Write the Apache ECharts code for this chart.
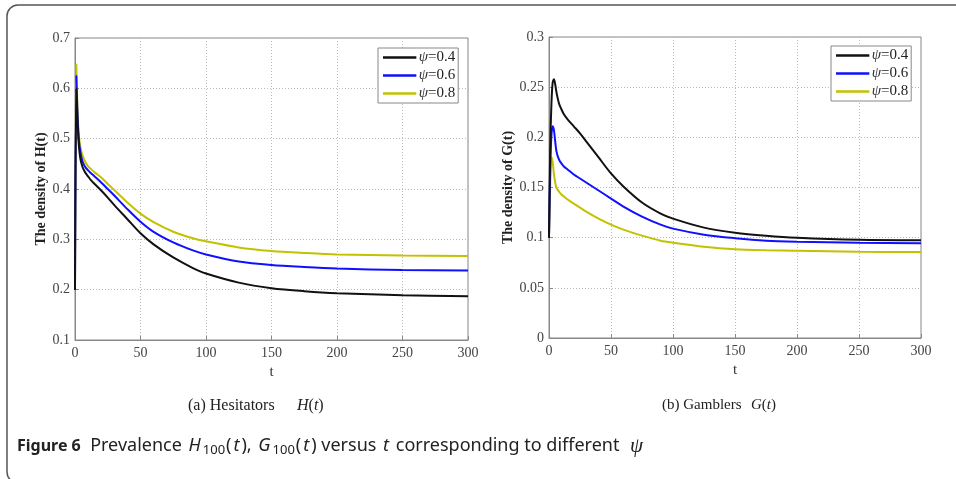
<!DOCTYPE html>
<html>
<head>
<meta charset="utf-8">
<script src="https://cdn.jsdelivr.net/npm/echarts@6/dist/echarts.min.js"></script>
<style>
  html, body { margin: 0; padding: 0; background: #fff; }
  #chart { width: 956px; height: 479px; }
</style>
</head>
<body>
<div id="chart"></div>
<script>
// time points shared by all curves
const tVals = [0, 1, 2, 3, 4, 5, 6, 8, 10, 12, 15, 20, 25, 30, 40, 50, 60, 75, 90, 100, 125, 150, 175, 200, 250, 300];

// (a) Hesitators H(t)
const hPsi04 = [0.2, 0.60, 0.53, 0.485, 0.462, 0.45, 0.442, 0.432, 0.425, 0.418, 0.41, 0.397, 0.383, 0.368, 0.34, 0.312, 0.29, 0.264, 0.243, 0.232, 0.214, 0.203, 0.197, 0.193, 0.189, 0.187];
const hPsi06 = [0.2, 0.625, 0.54, 0.495, 0.475, 0.462, 0.453, 0.443, 0.437, 0.432, 0.425, 0.413, 0.40, 0.387, 0.36, 0.335, 0.315, 0.294, 0.278, 0.270, 0.256, 0.249, 0.245, 0.242, 0.239, 0.238];
const hPsi08 = [0.2, 0.648, 0.55, 0.505, 0.485, 0.473, 0.465, 0.453, 0.445, 0.44, 0.433, 0.423, 0.41, 0.398, 0.373, 0.351, 0.334, 0.315, 0.302, 0.296, 0.284, 0.277, 0.273, 0.270, 0.268, 0.267];

// (b) Gamblers G(t)
const gPsi04 = [0.1, 0.19, 0.235, 0.255, 0.258, 0.253, 0.245, 0.234, 0.228, 0.223, 0.218, 0.211, 0.204, 0.196, 0.18, 0.164, 0.151, 0.135, 0.124, 0.119, 0.110, 0.105, 0.102, 0.100, 0.098, 0.0975];
const gPsi06 = [0.1, 0.17, 0.203, 0.211, 0.207, 0.196, 0.186, 0.178, 0.174, 0.171, 0.168, 0.163, 0.159, 0.155, 0.147, 0.139, 0.131, 0.121, 0.113, 0.109, 0.103, 0.0995, 0.097, 0.096, 0.095, 0.0945];
const gPsi08 = [0.1, 0.155, 0.18, 0.175, 0.163, 0.155, 0.15, 0.146, 0.143, 0.141, 0.138, 0.134, 0.13, 0.126, 0.119, 0.113, 0.108, 0.102, 0.097, 0.095, 0.091, 0.0885, 0.0875, 0.087, 0.086, 0.0857];

const seriesNames = ['ψ=0.4', 'ψ=0.6', 'ψ=0.8'];
const colors = ['#111111', '#1010ff', '#c2c200'];

const serif = '"Liberation Serif", "DejaVu Serif", serif';
const sans = '"Noto Sans", sans-serif';
const pairs = (ys) => tVals.map((t, i) => [t, ys[i]]);

const myChart = echarts.init(document.getElementById('chart'));

const xAxisBase = (grid) => ({
  type: 'value', gridIndex: grid, min: 0, max: 300, interval: 50,
  name: 't', nameLocation: 'middle', nameGap: 22,
  nameTextStyle: { fontFamily: serif, fontSize: 15, color: '#333' },
  axisLine: { show: true, lineStyle: { color: '#888', width: 1 } },
  axisTick: { show: true, inside: true, length: 4, lineStyle: { color: '#888' } },
  axisLabel: { fontFamily: serif, fontSize: 14, color: '#444', margin: 6 },
  splitLine: { show: true, lineStyle: { color: '#bbb', type: [1, 2], width: 1 } }
});

const yAxisBase = (grid, min, max, step, label) => ({
  type: 'value', gridIndex: grid, min: min, max: max, interval: step,
  name: label, nameLocation: 'middle', nameGap: grid === 0 ? 25 : 26,
  nameTextStyle: { fontFamily: serif, fontSize: 14, fontWeight: 'bold', color: '#222' },
  axisLine: { show: true, lineStyle: { color: '#888', width: 1 } },
  axisTick: { show: true, inside: true, length: 4, lineStyle: { color: '#888' } },
  axisLabel: { fontFamily: serif, fontSize: 14, color: '#444', margin: 5 },
  splitLine: { show: true, lineStyle: { color: '#bbb', type: [1, 2], width: 1 } }
});

const legendBase = (left, top) => ({
  orient: 'vertical', left: left, top: top,
  data: seriesNames,
  backgroundColor: '#fff', borderColor: '#888', borderWidth: 1,
  padding: [2, 3, 2, 5], itemGap: 3, itemWidth: 36, itemHeight: 2.5,
  icon: 'path://M0,0 H40 V3 H0 Z',
  formatter: (n) => '{i|ψ}{n|' + n.slice(1) + '}',
  textStyle: {
    fontFamily: serif, fontSize: 15, color: '#222', padding: [0, 0, 0, -4],
    rich: {
      i: { fontFamily: serif, fontSize: 15, fontStyle: 'italic', color: '#333', lineHeight: 17 },
      n: { fontFamily: serif, fontSize: 15, color: '#222', lineHeight: 17 }
    }
  },
  selectedMode: false
});

const makeSeries = (grid, arrays, width) => arrays.map((ys, i) => ({
  name: seriesNames[i], type: 'line', xAxisIndex: grid, yAxisIndex: grid,
  data: pairs(ys), showSymbol: false, symbol: 'none', smooth: 0.3,
  lineStyle: { color: colors[i], width: width },
  itemStyle: { color: colors[i] },
  z: 3 - i
}));

const capStyle = (txt, italic, size) => ({
  text: txt, fontFamily: serif, fontSize: size, fontStyle: italic ? 'italic' : 'normal', fill: '#222'
});

const option = {
  animation: false,
  backgroundColor: '#fff',
  grid: [
    { left: 75, top: 38, right: 488, bottom: 139, show: true, borderColor: '#888', borderWidth: 1, backgroundColor: '#fff' },
    { left: 549, top: 37, right: 35, bottom: 141, show: true, borderColor: '#888', borderWidth: 1, backgroundColor: '#fff' }
  ],
  xAxis: [xAxisBase(0), xAxisBase(1)],
  yAxis: [
    yAxisBase(0, 0.1, 0.7, 0.1, 'The density of H(t)'),
    yAxisBase(1, 0, 0.3, 0.05, 'The density of G(t)')
  ],
  legend: [legendBase(378, 48), legendBase(831, 46)],
  series: [].concat(
    makeSeries(0, [hPsi04, hPsi06, hPsi08], 2),
    makeSeries(1, [gPsi04, gPsi06, gPsi08], 2)
  ),
  graphic: [
    {
      type: 'rect', silent: true, z: -1,
      shape: { x: 7, y: 5, width: 1000, height: 478, r: 11 },
      style: { fill: 'none', stroke: '#555', lineWidth: 1.5 }
    },
    { type: 'text', left: 188, top: 398, silent: true, style: capStyle('(a) Hesitators', false, 16) },
    {
      type: 'text', left: 297, top: 398, silent: true,
      style: {
        text: '{i|H}{n|(}{i|t}{n|)}',
        rich: { n: capStyle('', false, 16), i: capStyle('', true, 16) }
      }
    },
    { type: 'text', left: 662, top: 398, silent: true, style: capStyle('(b) Gamblers', false, 15) },
    {
      type: 'text', left: 751, top: 398, silent: true,
      style: {
        text: '{i|G}{n|(}{i|t}{n|)}',
        rich: { n: capStyle('', false, 15), i: capStyle('', true, 15) }
      }
    },
    {
      type: 'text', left: 17, top: 435, silent: true,
      style: {
        text: '{b|Figure 6}{n|  Prevalence }{i|H}{s|100}{n|(}{i|t}{n|), }{i|G}{s|100}{n|(}{i|t}{n|) versus }{i|t}{n| corresponding to different }{p|ψ}',
        rich: {
          b: { fontFamily: sans, fontSize: 16, fontWeight: 'bold', fill: '#222', lineHeight: 22 },
          n: { fontFamily: sans, fontSize: 18, fill: '#222', lineHeight: 22 },
          i: { fontFamily: sans, fontSize: 18, fontStyle: 'italic', fill: '#222', lineHeight: 22, padding: [0, 2, 0, 2] },
          s: { fontFamily: sans, fontSize: 13, fill: '#222', lineHeight: 22, padding: [9, 1, 0, 0] },
          p: { fontFamily: serif, fontSize: 21, fontStyle: 'italic', fill: '#222', lineHeight: 22, padding: [0, 0, 0, 6] }
        }
      }
    }
  ]
};

myChart.setOption(option);
</script>
</body>
</html>
